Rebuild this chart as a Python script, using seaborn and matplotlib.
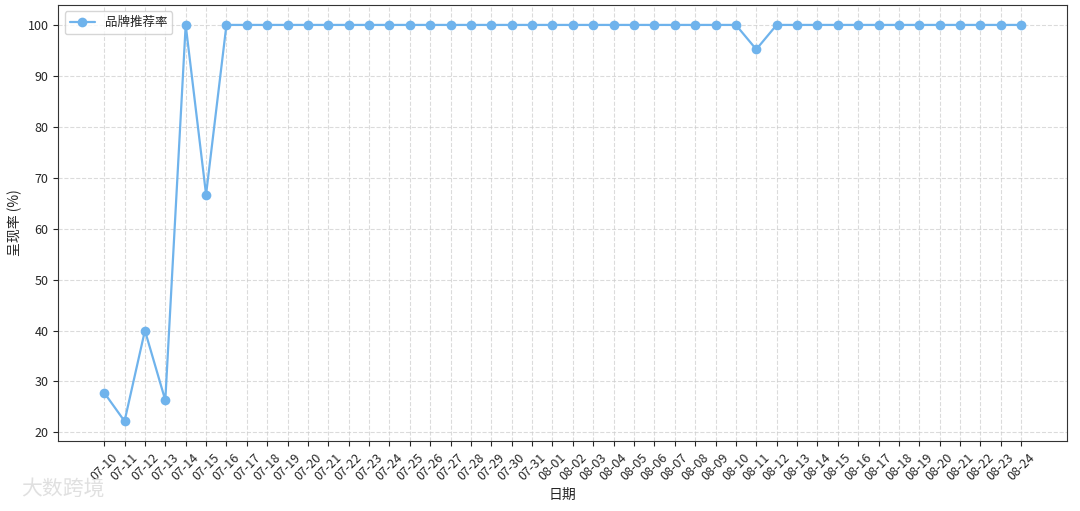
import matplotlib
matplotlib.use('Agg')
import matplotlib.pyplot as plt
import seaborn as sns
import pandas as pd

dates = ['07-10', '07-11', '07-12', '07-13', '07-14', '07-15', '07-16', '07-17', '07-18',
         '07-19', '07-20', '07-21', '07-22', '07-23', '07-24', '07-25', '07-26', '07-27',
         '07-28', '07-29', '07-30', '07-31', '08-01', '08-02', '08-03', '08-04', '08-05',
         '08-06', '08-07', '08-08', '08-09', '08-10', '08-11', '08-12', '08-13', '08-14',
         '08-15', '08-16', '08-17', '08-18', '08-19', '08-20', '08-21', '08-22', '08-23',
         '08-24']
rates = [27.8, 22.2, 40.0, 26.3, 100, 66.7, 100, 100, 100,
         100, 100, 100, 100, 100, 100, 100, 100, 100,
         100, 100, 100, 100, 100, 100, 100, 100, 100,
         100, 100, 100, 100, 100, 95.2, 100, 100, 100,
         100, 100, 100, 100, 100, 100, 100, 100, 100,
         100]
dates = dates[:len(rates)]

sns.set_style('ticks')
plt.rcParams['font.family'] = ['Noto Sans CJK SC', 'DejaVu Sans']
plt.rcParams['axes.unicode_minus'] = False

df = pd.DataFrame({'日期': dates, '呈现率': rates})

fig, ax = plt.subplots(figsize=(10.8, 5.11), dpi=100)
sns.lineplot(data=df, x='日期', y='呈现率', marker='o', markersize=7, markeredgewidth=0,
             color='#6fb3ec', linewidth=1.6, label='品牌推荐率', ax=ax, sort=False)

ax.set_xlabel('日期', fontsize=10)
ax.set_ylabel('呈现率 (%)', fontsize=10)
ax.tick_params(axis='x', rotation=45, labelsize=9)
ax.tick_params(axis='y', labelsize=9)
for lbl in ax.get_xticklabels():
    lbl.set_ha('center')
ax.grid(True, linestyle='--', alpha=0.7)
for s in ax.spines.values():
    s.set_color('#333333')
ax.legend(loc='upper left', fontsize=9)

fig.text(0.02, 0.03, '大数跨境', fontsize=15, color='#dddddd', alpha=0.9)

plt.subplots_adjust(left=0.054, right=0.988, top=0.99, bottom=0.137)
fig.savefig('out.png', dpi=100)
